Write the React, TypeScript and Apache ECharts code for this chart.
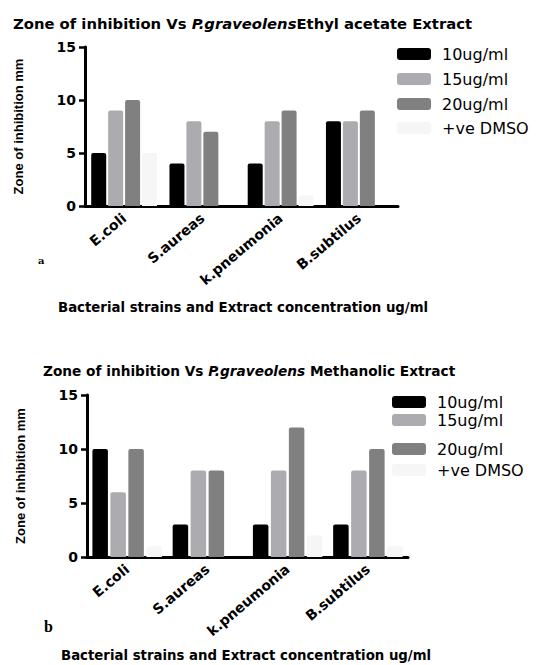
import React, { useEffect, useRef } from "react";
import * as echarts from "echarts";

const categories = ["E.coli", "S.aureas", "k.pneumonia", "B.subtilus"];
const seriesNames = ["10ug/ml", "15ug/ml", "20ug/ml", "+ve DMSO"];
const seriesColors = ["#000000", "#acacb0", "#808080", "#f6f6f6"];

const ethyl10 = [5, 4, 4, 8];
const ethyl15 = [9, 8, 8, 8];
const ethyl20 = [10, 7, 9, 9];
const ethylDmso = [5, 0, 1, 0];

const meth10 = [10, 3, 3, 3];
const meth15 = [6, 8, 8, 8];
const meth20 = [10, 8, 12, 10];
const methDmso = [1, 0, 2, 1];

const yMin = 0;
const yMax = 15;
const yInterval = 5;

const yAxisName = "Zone of inhibition mm";
const xAxisName = "Bacterial strains and Extract concentration ug/ml";

const BOLD = "DejaVu Sans";

function makeAxes(gridIndex: number) {
  const x = {
    type: "category",
    gridIndex,
    data: categories,
    boundaryGap: true,
    axisLine: { lineStyle: { color: "#000", width: 3 } },
    axisTick: { alignWithLabel: true, length: 6, lineStyle: { color: "#000", width: 2.5 } },
    axisLabel: {
      rotate: 40,
      margin: 10,
      color: "#000",
      fontFamily: BOLD,
      fontWeight: "bold",
      fontSize: 14,
      interval: 0,
    },
  };
  const y = {
    type: "value",
    gridIndex,
    min: yMin,
    max: yMax,
    interval: yInterval,
    name: yAxisName,
    nameLocation: "middle",
    nameRotate: 90,
    nameGap: 60,
    nameTextStyle: {
      color: "#000",
      fontFamily: "Liberation Sans",
      fontWeight: "bold",
      fontSize: 13,
    },
    splitLine: { show: false },
    axisLine: { show: true, lineStyle: { color: "#000", width: 3 } },
    axisTick: { show: true, length: 6, lineStyle: { color: "#000", width: 2.5 } },
    axisLabel: {
      margin: 9,
      color: "#000",
      fontFamily: BOLD,
      fontWeight: "bold",
      fontSize: 14,
    },
  };
  return { x, y };
}

function makeSeries(gridIndex: number, data: number[][], barWidth: number, barGap: string) {
  return data.map((vals, i) => ({
    type: "bar",
    name: seriesNames[i],
    xAxisIndex: gridIndex,
    yAxisIndex: gridIndex,
    data: vals,
    barWidth,
    barGap,
    itemStyle: { color: seriesColors[i], borderRadius: [2, 2, 0, 0] },
  }));
}

function makeLegends(left: number, rows: number[]) {
  return seriesNames.map((n, i) => ({
    data: [n],
    left,
    top: rows[i] - 6,
    orient: "vertical",
    icon: "roundRect",
    itemWidth: 34,
    itemHeight: 12,
    selectedMode: false,
    textStyle: {
      color: "#000",
      fontFamily: "DejaVu Sans",
      fontSize: 16,
      padding: [0, 0, 0, 6],
    },
  }));
}

function titleRich(size: number) {
  return {
    n: { fontFamily: BOLD, fontWeight: "bold", fontSize: size, color: "#000" },
    i: { fontFamily: BOLD, fontWeight: "bold", fontStyle: "italic", fontSize: size, color: "#000" },
  };
}

export default function App() {
  const ref = useRef<HTMLDivElement>(null);
  useEffect(() => {
    if (!ref.current) return;
    const chart = echarts.init(ref.current, undefined, { renderer: "svg" });
    const a = makeAxes(0);
    const b = makeAxes(1);
    chart.setOption({
      animation: false,
      backgroundColor: "#ffffff",
      title: [
        {
          text: "{n|Zone of inhibition Vs }{i|P.graveolens}{n|Ethyl acetate Extract}",
          left: 8,
          top: 11,
          textStyle: { rich: titleRich(14.8) },
        },
        {
          text: "{n|Zone of inhibition Vs }{i|P.graveolens}{n| Methanolic Extract}",
          left: 38,
          top: 359,
          textStyle: { rich: titleRich(13.7) },
        },
      ],
      legend: [...makeLegends(392, [47, 72, 97, 121]), ...makeLegends(387, [395, 413, 442, 463])],
      grid: [
        { left: 85, top: 47, width: 313, height: 159 },
        { left: 87, top: 395, width: 321, height: 162 },
      ],
      xAxis: [a.x, b.x],
      yAxis: [a.y, b.y],
      series: [
        ...makeSeries(0, [ethyl10, ethyl15, ethyl20, ethylDmso], 15, "13%"),
        ...makeSeries(1, [meth10, meth15, meth20, methDmso], 15.5, "16%"),
      ],
      graphic: [
        {
          type: "text",
          left: 38,
          top: 255,
          style: { text: "a", fontFamily: "DejaVu Serif", fontWeight: "bold", fontSize: 10, fill: "#000" },
        },
        {
          type: "text",
          left: 44,
          top: 618,
          style: { text: "b", fontFamily: "Liberation Serif", fontWeight: "bold", fontSize: 16, fill: "#000" },
        },
        {
          type: "text",
          left: 58,
          top: 301,
          style: { text: xAxisName, fontFamily: BOLD, fontWeight: "bold", fontSize: 13.3, fill: "#000" },
        },
        {
          type: "text",
          left: 61,
          top: 649,
          style: { text: xAxisName, fontFamily: BOLD, fontWeight: "bold", fontSize: 13.3, fill: "#000" },
        },
      ],
    });
    return () => chart.dispose();
  }, []);
  return (
    <div
      ref={ref}
      style={{ position: "absolute", left: 0, top: 0, width: 539, height: 665 }}
    />
  );
}
